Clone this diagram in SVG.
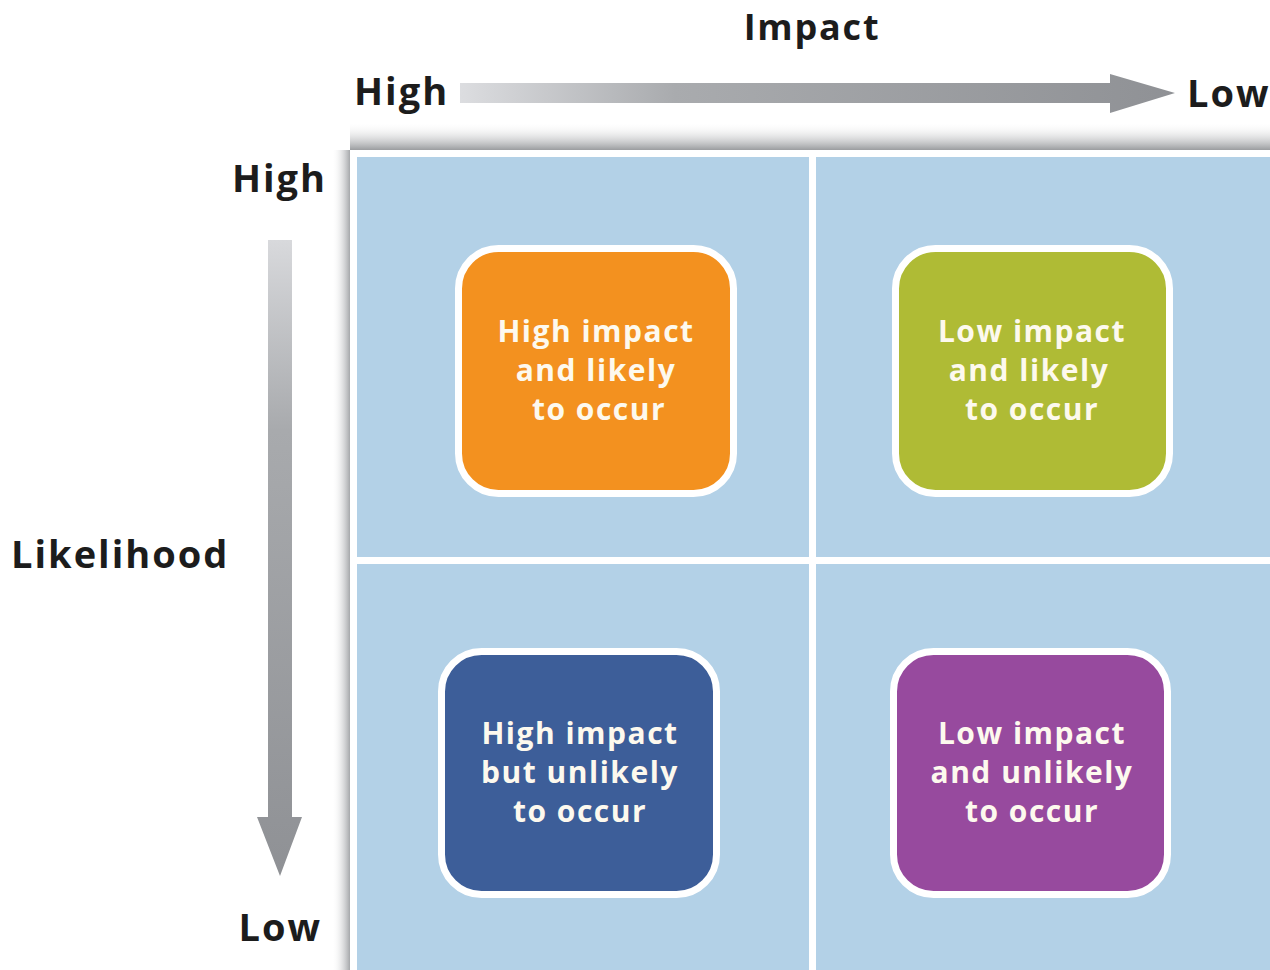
<svg xmlns="http://www.w3.org/2000/svg" width="1270" height="970" viewBox="0 0 1270 970">
<style>
.lbl{font-family:"Open Sans","Liberation Sans",sans-serif;font-weight:700;fill:#1c1c1c;font-size:38px;letter-spacing:2px}
.bt{font-family:"Open Sans","Liberation Sans",sans-serif;font-weight:700;font-size:30px;letter-spacing:1.5px;fill:#fdf9ee;text-anchor:middle}
.cell{fill:#b3d1e7}
.box{stroke:#ffffff;stroke-width:7}
</style>
<defs>
<linearGradient id="hgrad" x1="460" y1="0" x2="1175" y2="0" gradientUnits="userSpaceOnUse">
<stop offset="0" stop-color="#dcdde0"/>
<stop offset="0.3" stop-color="#a9abae"/>
<stop offset="1" stop-color="#8f9195"/>
</linearGradient>
<linearGradient id="vgrad" x1="0" y1="240" x2="0" y2="875" gradientUnits="userSpaceOnUse">
<stop offset="0" stop-color="#d8d9dc"/>
<stop offset="0.3" stop-color="#a8aaad"/>
<stop offset="1" stop-color="#8f9195"/>
</linearGradient>
<linearGradient id="shTop" x1="0" y1="122" x2="0" y2="150" gradientUnits="userSpaceOnUse">
<stop offset="0" stop-color="#ffffff" stop-opacity="0"/>
<stop offset="1" stop-color="#9a9c9f"/>
</linearGradient>
<linearGradient id="shLeft" x1="332" y1="0" x2="350" y2="0" gradientUnits="userSpaceOnUse">
<stop offset="0" stop-color="#ffffff" stop-opacity="0"/>
<stop offset="1" stop-color="#a5a7aa"/>
</linearGradient>
</defs>
<rect width="1270" height="970" fill="#ffffff"/>

<g id="grid">
<rect x="350" y="122" width="920" height="28" fill="url(#shTop)"/>
<rect x="332" y="150" width="18" height="820" fill="url(#shLeft)"/>
<rect x="350" y="150" width="920" height="820" fill="#ffffff"/>
<rect class="cell" x="357" y="157" width="452" height="400"/>
<rect class="cell" x="816" y="157" width="454" height="400"/>
<rect class="cell" x="357" y="564" width="452" height="406"/>
<rect class="cell" x="816" y="564" width="454" height="406"/>
</g>

<g id="axis-labels">
<text class="lbl" x="812" y="40" text-anchor="middle" style="font-size:36px;letter-spacing:1.8px">Impact</text>
<text class="lbl" x="354" y="105">High</text>
<text class="lbl" x="1187" y="107">Low</text>
<text class="lbl" x="327" y="192" text-anchor="end">High</text>
<text class="lbl" x="11" y="568">Likelihood</text>
<text class="lbl" x="322" y="941" text-anchor="end">Low</text>
</g>

<g id="connectors">
<path d="M460,83 L1110,83 L1110,74 L1175,93 L1110,113 L1110,103 L460,103 Z" fill="url(#hgrad)"/>
<path d="M268,240 L292,240 L292,817 L302,817 L280,876 L257,817 L268,817 Z" fill="url(#vgrad)"/>
</g>

<g id="box-high-likely">
<rect class="box" x="458.5" y="248.5" width="275" height="245" rx="40" fill="#f3911f"/>
<text class="bt" x="596" y="342">High impact</text>
<text class="bt" x="596" y="381">and likely</text>
<text class="bt" x="599" y="420">to occur</text>
</g>

<g id="box-low-likely">
<rect class="box" x="895.5" y="248.5" width="274" height="245" rx="40" fill="#afbb35"/>
<text class="bt" x="1032" y="342">Low impact</text>
<text class="bt" x="1029" y="381">and likely</text>
<text class="bt" x="1032" y="420">to occur</text>
</g>

<g id="box-high-unlikely">
<rect class="box" x="441.5" y="651.5" width="275" height="243" rx="40" fill="#3d5e99"/>
<text class="bt" x="580" y="744">High impact</text>
<text class="bt" x="580" y="783">but unlikely</text>
<text class="bt" x="580" y="822">to occur</text>
</g>

<g id="box-low-unlikely">
<rect class="box" x="893.5" y="651.5" width="274" height="243" rx="40" fill="#974a9e"/>
<text class="bt" x="1032" y="744">Low impact</text>
<text class="bt" x="1032" y="783">and unlikely</text>
<text class="bt" x="1032" y="822">to occur</text>
</g>
</svg>
